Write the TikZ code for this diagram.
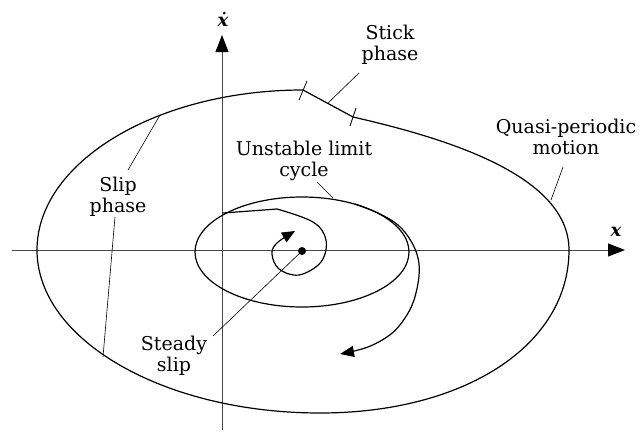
\documentclass[tikz,border=0pt]{standalone}
\usepackage{fontspec}
\setmainfont{DejaVu Serif}
\usetikzlibrary{arrows.meta}
\begin{document}
\begin{tikzpicture}[x=1pt,y=-1pt,
  curve/.style={line width=1.2pt, line join=round, line cap=round},
  axis/.style={line width=0.9pt, draw=black!72, -{Triangle[length=17pt,width=13pt,color=black]}},
  leader/.style={line width=0.6pt},
  tick/.style={line width=0.8pt},
  lbl/.style={font=\fontsize{19}{20.5}\selectfont, align=center, inner sep=0pt, anchor=north},
  axlbl/.style={font=\fontsize{18}{20}\selectfont\bfseries\itshape, inner sep=0pt},
  head/.style={-{Triangle[length=14pt,width=11pt]}}
]
\useasboundingbox (0,0) rectangle (641,434);

% axes
\coordinate (xs) at (12,250);
\coordinate (xe) at (625,250);
\coordinate (ys) at (222,430);
\coordinate (ye) at (222,35);
\draw[axis] (xs) -- (xe);
\draw[axis] (ys) -- (ye);
\node[axlbl] (xlab) at (616,232) {x};
\node[axlbl] (ylab) at (223,19) {ẋ};

% outer quasi-periodic orbit
\coordinate (s1) at (303,90);
\coordinate (s2) at (353,117);
\coordinate (oR) at (569,250);
\coordinate (oB) at (320,413);
\coordinate (oL) at (37,250);
\draw[curve] (s2) .. controls (445,138) and (569,175) .. (oR)
  .. controls (569,345) and (465,413) .. (oB)
  .. controls (164,413) and (37,340) .. (oL)
  .. controls (37,162) and (157,90) .. (s1) -- cycle;
% ticks
\coordinate (t1a) at (299,100);
\coordinate (t1b) at (307,81);
\coordinate (t2a) at (350,126);
\coordinate (t2b) at (356,108);
\draw[tick] (t1a) -- (t1b);
\draw[tick] (t2a) -- (t2b);

% unstable limit cycle
\draw[curve] (302,252) ellipse [x radius=107pt, y radius=55pt];

% outer spiral leaving the limit cycle
\draw[curve, head] plot[smooth, tension=0.6] coordinates {(355,204) (378,213) (398,225) (411,241) (418,258) (419,276) (414,300) (405,318) (391,334) (368,347) (340,354)};

% inner spiral around steady slip
\coordinate (sp0) at (223,213);
\draw[curve, -{Triangle[length=13pt,width=11pt]}] (sp0) -- plot[smooth, tension=0.6] coordinates {(277,209) (313,222) (326,240) (321,262) (299,275) (279,269) (272,254) (277,243) (295,231)};

% steady slip point
\node[circle, fill=black, inner sep=0pt, minimum size=8pt] (dot) at (302,251) {};

% labels
\node[lbl] (stick) at (390,25) {Stick\\phase};
\node[lbl] (quasi) at (566,119) {Quasi-periodic\\motion};
\node[lbl] (unst) at (304,141) {Unstable limit\\cycle};
\node[lbl] (slip) at (118,177) {Slip\\phase};
\node[lbl] (steady) at (174,336) {Steady\\slip};

% leaders
\coordinate (lst1) at (359,73);
\coordinate (lst2) at (328,103);
\draw[leader] (lst1) -- (lst2);
\coordinate (lq1) at (563,167);
\coordinate (lq2) at (551,200);
\draw[leader] (lq1) -- (lq2);
\coordinate (lu1) at (317,182);
\coordinate (lu2) at (333,198);
\draw[leader] (lu1) -- (lu2);
\coordinate (ls1) at (128,170);
\coordinate (ls2) at (160,115);
\draw[leader] (ls1) -- (ls2);
\coordinate (ls3) at (115,217);
\coordinate (ls4) at (103,357);
\draw[leader] (ls3) -- (ls4);
\coordinate (lsd) at (213,336);
\draw[leader] (lsd) -- (dot.center);
\end{tikzpicture}
\end{document}
